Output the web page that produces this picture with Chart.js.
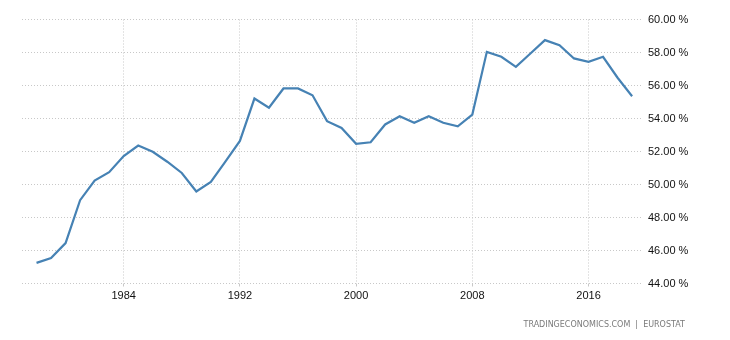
<!DOCTYPE html>
<html>
<head>
<meta charset="utf-8">
<script src="https://cdn.jsdelivr.net/npm/chart.js@4"></script>
<style>
  body { margin: 0; background: #fff; }
  #wrap { position: relative; width: 730px; height: 340px; }
  #src {
    position: absolute; right: 45px; top: 320px;
    font: 8px "DejaVu Sans", sans-serif; color: #7a7a7a;
  }
</style>
</head>
<body>
<div id="wrap">
  <canvas id="chart" width="730" height="340"></canvas>
  <div id="src">TRADINGECONOMICS.COM &nbsp;|&nbsp; EUROSTAT</div>
</div>
<script>
// years and values
const years = [1978, 1979, 1980, 1981, 1982, 1983, 1984, 1985, 1986, 1987,
  1988, 1989, 1990, 1991, 1992, 1993, 1994, 1995, 1996, 1997,
  1998, 1999, 2000, 2001, 2002, 2003, 2004, 2005, 2006, 2007,
  2008, 2009, 2010, 2011, 2012, 2013, 2014, 2015, 2016, 2017,
  2018, 2019];
const values = [45.25, 45.55, 46.45, 49.05, 50.24, 50.75, 51.72, 52.36, 51.98, 51.38,
  50.70, 49.58, 50.16, 51.38, 52.64, 55.21, 54.65, 55.82, 55.82, 55.41,
  53.84, 53.43, 52.47, 52.56, 53.64, 54.14, 53.74, 54.14, 53.74, 53.53,
  54.24, 58.04, 57.74, 57.13, 57.94, 58.75, 58.44, 57.64, 57.44, 57.74,
  56.47, 55.35];
const xTicks = [1984, 1992, 2000, 2008, 2016];
const yTicks = [44, 46, 48, 50, 52, 54, 56, 58, 60];

const font = { family: '"Liberation Sans", Arial, sans-serif', size: 11 };
const grid = { color: '#c8c8c8', lineWidth: 1 };

new Chart(document.getElementById('chart'), {
  type: 'line',
  data: {
    datasets: [{
      data: years.map((y, i) => ({ x: y, y: values[i] })),
      borderColor: '#4682b4',
      borderWidth: 2.2,
      pointRadius: 0,
      tension: 0,
      fill: false
    }]
  },
  options: {
    responsive: false,
    animation: false,
    layout: { padding: { left: 22, top: 19.5, right: 0, bottom: 0 } },
    plugins: { legend: { display: false }, tooltip: { enabled: false } },
    scales: {
      x: {
        type: 'linear',
        min: 1977,
        max: 2019.75,
        afterBuildTicks: s => { s.ticks = xTicks.map(v => ({ value: v })); },
        afterFit: s => { s.height = 56.5; },
        ticks: { color: '#111', font, padding: 3, callback: v => String(v) },
        grid: { ...grid, drawTicks: true, tickLength: 3, tickColor: '#c8c8c8' },
        border: { display: false, dash: [1, 2] }
      },
      y: {
        position: 'right',
        min: 44,
        max: 60,
        afterBuildTicks: s => { s.ticks = yTicks.map(v => ({ value: v })); },
        afterFit: s => { s.width = 87; },
        ticks: { color: '#111', font, padding: 5, callback: v => v.toFixed(2) + ' %' },
        grid: { ...grid, drawTicks: false },
        border: { display: false, dash: [1, 2] }
      }
    }
  }
});
</script>
</body>
</html>
